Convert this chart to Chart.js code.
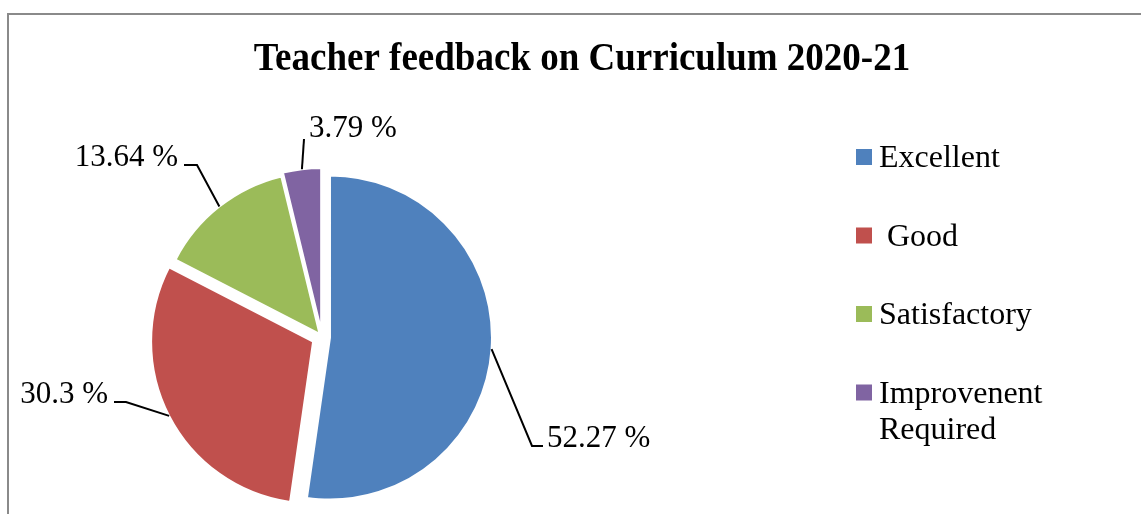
<!DOCTYPE html>
<html>
<head>
<meta charset="utf-8">
<script src="https://cdn.jsdelivr.net/npm/chart.js@4/dist/chart.umd.min.js"></script>
<style>
  html, body { margin: 0; padding: 0; background: #ffffff; }
  #wrap { position: relative; width: 1141px; height: 514px; }
  canvas { display: block; }
</style>
</head>
<body>
<div id="wrap"><canvas id="c" width="1141" height="514"></canvas></div>
<script>
// ---- data ----
const chartTitle = 'Teacher feedback on Curriculum 2020-21';
const categories = ['Excellent', ' Good', 'Satisfactory', 'Improvenent Required'];
const legendLines = [['Excellent'], [' Good'], ['Satisfactory'], ['Improvenent', 'Required']];
const values = [52.27, 30.3, 13.64, 3.79];
const colors = ['#4F81BD', '#C0504D', '#9BBB59', '#8064A2'];

// ---- style / layout (not data) ----
const explode = [8, 10, 4, 7];           // px each slice is pulled out
const labelLayout = [                     // elbow, end of leader, text anchor
  { elbow: [532, 446], end: [543, 446], tx: 547, ty: 447, align: 'left' },
  { elbow: [126, 402], end: [114, 402], tx: 108, ty: 403, align: 'right' },
  { elbow: [197, 165], end: [184, 165], tx: 178, ty: 166, align: 'right' },
  { elbow: [304, 139], end: [304, 139], tx: 309, ty: 137, align: 'left' }
];
const legendLayout = { boxX: 856, textX: 879, firstBaseline: 167, rowGap: 78.5, lineGap: 36, box: 16 };

const explodePlugin = {
  id: 'explode',
  afterDatasetsUpdate(chart) {
    const meta = chart.getDatasetMeta(0);
    meta.data.forEach((arc, i) => {
      const mid = (arc.startAngle + arc.endAngle) / 2;
      arc.x += Math.cos(mid) * explode[i];
      arc.y += Math.sin(mid) * explode[i];
    });
  }
};

const decorPlugin = {
  id: 'decor',
  beforeDraw(chart) {
    const ctx = chart.ctx;
    ctx.save();
    ctx.fillStyle = '#ffffff';
    ctx.fillRect(0, 0, chart.width, chart.height);
    ctx.strokeStyle = '#8a8a8a';
    ctx.lineWidth = 2;
    ctx.beginPath();
    ctx.moveTo(8, chart.height);
    ctx.lineTo(8, 14);
    ctx.lineTo(chart.width, 14);
    ctx.stroke();
    // title
    ctx.fillStyle = '#000000';
    ctx.font = 'bold 37px "Liberation Serif", "Times New Roman", serif';
    ctx.textAlign = 'center';
    ctx.textBaseline = 'alphabetic';
    ctx.translate(582, 70);
    ctx.scale(1, 1.06);
    ctx.fillText(chartTitle, 0, 0);
    ctx.restore();
  },
  afterDatasetsDraw(chart) {
    const ctx = chart.ctx;
    const meta = chart.getDatasetMeta(0);
    ctx.save();
    // leader lines + labels
    meta.data.forEach((arc, i) => {
      const mid = (arc.startAngle + arc.endAngle) / 2;
      const ax = arc.x + Math.cos(mid) * arc.outerRadius;
      const ay = arc.y + Math.sin(mid) * arc.outerRadius;
      const L = labelLayout[i];
      ctx.strokeStyle = '#000000';
      ctx.lineWidth = 2;
      ctx.beginPath();
      ctx.moveTo(ax, ay);
      ctx.lineTo(L.elbow[0], L.elbow[1]);
      ctx.lineTo(L.end[0], L.end[1]);
      ctx.stroke();
      ctx.fillStyle = '#000000';
      ctx.font = '31px "Liberation Serif", "Times New Roman", serif';
      ctx.textAlign = L.align;
      ctx.textBaseline = 'alphabetic';
      ctx.fillText(values[i] + ' %', L.tx, L.ty);
    });
    // legend
    const G = legendLayout;
    ctx.font = '32px "Liberation Serif", "Times New Roman", serif';
    ctx.textAlign = 'left';
    legendLines.forEach((lines, i) => {
      const base = G.firstBaseline + i * G.rowGap;
      ctx.fillStyle = colors[i];
      ctx.fillRect(G.boxX, base - 18, G.box, G.box);
      ctx.fillStyle = '#000000';
      lines.forEach((t, j) => ctx.fillText(t, G.textX, base + j * G.lineGap));
    });
    ctx.restore();
  }
};

new Chart(document.getElementById('c'), {
  type: 'pie',
  data: {
    labels: categories,
    datasets: [{
      data: values,
      backgroundColor: colors,
      borderColor: '#ffffff',
      borderWidth: 2,
      clip: false
    }]
  },
  options: {
    responsive: false,
    animation: false,
    events: [],
    radius: 162,
    layout: { padding: { left: 147, right: 644, top: 162, bottom: 2 } },
    plugins: { legend: { display: false }, title: { display: false }, tooltip: { enabled: false } }
  },
  plugins: [explodePlugin, decorPlugin]
});
</script>
</body>
</html>
